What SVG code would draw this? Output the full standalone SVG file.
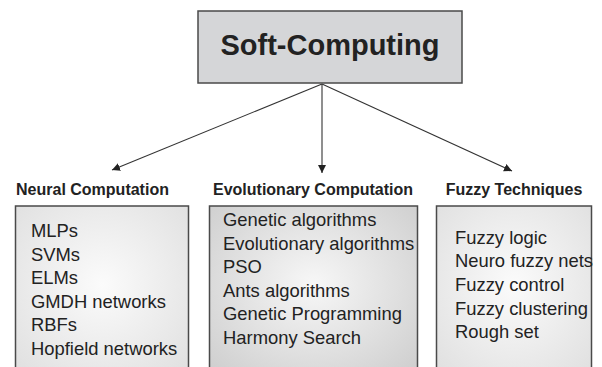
<svg xmlns="http://www.w3.org/2000/svg" width="602" height="367" viewBox="0 0 602 367">
  <style>
    .title { font-family: "Liberation Sans", Arial, sans-serif; font-weight: bold; font-size: 29px; fill: #222; }
    .head { font-family: "Liberation Sans", Arial, sans-serif; font-weight: bold; font-size: 16px; fill: #222; }
    .item { font-family: "Liberation Sans", Arial, sans-serif; font-size: 18.4px; fill: #222; }
    .box { stroke: #4a4a4a; stroke-width: 1.5; }
    .conn { stroke: #333; stroke-width: 1.1; fill: none; marker-end: url(#arrow); }
  </style>
  <defs>
    <marker id="arrow" viewBox="0 0 10 10" refX="10" refY="5" markerWidth="8" markerHeight="8" markerUnits="userSpaceOnUse" orient="auto">
      <path d="M0,0 L10,5 L0,10 z" fill="#222"/>
    </marker>
    <radialGradient id="gLight" cx="0.5" cy="0.45" r="0.75">
      <stop offset="0" stop-color="#fbfbfb"/>
      <stop offset="1" stop-color="#dedede"/>
    </radialGradient>
    <radialGradient id="gMid" cx="0.5" cy="0.45" r="0.75">
      <stop offset="0" stop-color="#f7f7f7"/>
      <stop offset="1" stop-color="#cbcbcb"/>
    </radialGradient>
  </defs>

  <rect width="602" height="367" fill="#ffffff"/>

  <g id="connectors">
    <line class="conn" x1="322" y1="84" x2="112" y2="170"/>
    <line class="conn" x1="322" y1="84" x2="322" y2="173"/>
    <line class="conn" x1="322" y1="84" x2="512" y2="171"/>
  </g>

  <g id="soft-computing">
    <rect class="box" x="198" y="11" width="264" height="72" fill="#d5d6d8" stroke-width="2"/>
    <text class="title" x="330" y="55" text-anchor="middle">Soft-Computing</text>
  </g>

  <g id="neural-computation">
    <text class="head" x="92.5" y="195" text-anchor="middle">Neural Computation</text>
    <rect class="box" x="15.5" y="206" width="173" height="175" fill="url(#gLight)"/>
    <text class="item" x="31" y="237">MLPs</text>
    <text class="item" x="31" y="260.6">SVMs</text>
    <text class="item" x="31" y="284.2">ELMs</text>
    <text class="item" x="31" y="307.8">GMDH networks</text>
    <text class="item" x="31" y="331.4">RBFs</text>
    <text class="item" x="31" y="355">Hopfield networks</text>
  </g>

  <g id="evolutionary-computation">
    <text class="head" x="313" y="195" text-anchor="middle">Evolutionary Computation</text>
    <rect class="box" x="209.5" y="206" width="208" height="175" fill="url(#gMid)"/>
    <text class="item" x="223" y="226">Genetic algorithms</text>
    <text class="item" x="223" y="249.5">Evolutionary algorithms</text>
    <text class="item" x="223" y="273">PSO</text>
    <text class="item" x="223" y="296.5">Ants algorithms</text>
    <text class="item" x="223" y="320">Genetic Programming</text>
    <text class="item" x="223" y="343.5">Harmony Search</text>
  </g>

  <g id="fuzzy-techniques">
    <text class="head" x="514" y="195" text-anchor="middle">Fuzzy Techniques</text>
    <rect class="box" x="436.5" y="206" width="155" height="175" fill="url(#gLight)"/>
    <text class="item" x="455" y="243.5">Fuzzy logic</text>
    <text class="item" x="455" y="267.2">Neuro fuzzy nets</text>
    <text class="item" x="455" y="290.9">Fuzzy control</text>
    <text class="item" x="455" y="314.6">Fuzzy clustering</text>
    <text class="item" x="455" y="338.3">Rough set</text>
  </g>
</svg>
